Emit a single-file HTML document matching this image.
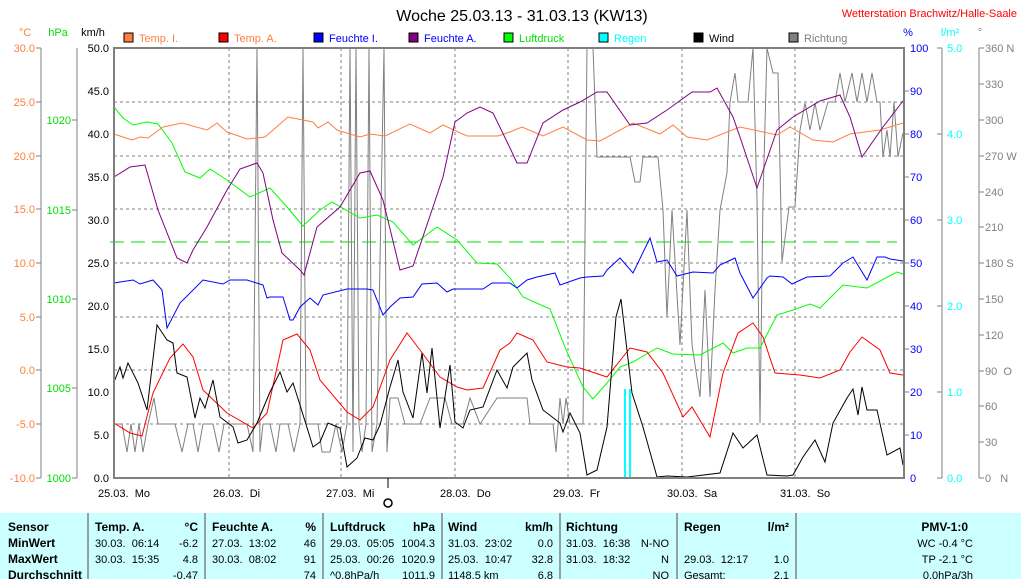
<!DOCTYPE html>
<html><head><meta charset="utf-8"><style>
body{margin:0;background:#fff;width:1021px;height:579px;overflow:hidden}
svg text{font-family:"Liberation Sans",sans-serif}
</style></head><body>
<svg width="1021" height="579" viewBox="0 0 1021 579" xmlns="http://www.w3.org/2000/svg">
<rect width="1021" height="579" fill="#fff"/>
<text x="522" y="21" font-size="16" text-anchor="middle" fill="#000">Woche 25.03.13 - 31.03.13 (KW13)</text>
<text x="1017" y="17" font-size="11" text-anchor="end" fill="#f00">Wetterstation Brachwitz/Halle-Saale</text>
<g font-size="11">
<text x="25" y="36" text-anchor="middle" fill="#ff7f3f">°C</text>
<text x="58" y="36" text-anchor="middle" fill="#00e000">hPa</text>
<text x="93" y="36" text-anchor="middle" fill="#000">km/h</text>
<text x="908" y="36" text-anchor="middle" fill="#00f">%</text>
<text x="950" y="36" text-anchor="middle" fill="#0ff">l/m²</text>
<text x="980" y="36" text-anchor="middle" fill="#808080">°</text>
</g>
<g font-size="11">
<rect x="124" y="33" width="9" height="9" fill="#ff7f3f" stroke="#000"/><text x="139" y="42" fill="#ff7f3f">Temp. I.</text>
<rect x="219" y="33" width="9" height="9" fill="#f00" stroke="#000"/><text x="234" y="42" fill="#ff7f3f">Temp. A.</text>
<rect x="314" y="33" width="9" height="9" fill="#00f" stroke="#000"/><text x="329" y="42" fill="#00f">Feuchte I.</text>
<rect x="409" y="33" width="9" height="9" fill="#800080" stroke="#000"/><text x="424" y="42" fill="#00f">Feuchte A.</text>
<rect x="504" y="33" width="9" height="9" fill="#00ff00" stroke="#000"/><text x="519" y="42" fill="#00e000">Luftdruck</text>
<rect x="599" y="33" width="9" height="9" fill="#0ff" stroke="#000"/><text x="614" y="42" fill="#0ff">Regen</text>
<rect x="694" y="33" width="9" height="9" fill="#000" stroke="#000"/><text x="709" y="42" fill="#000">Wind</text>
<rect x="789" y="33" width="9" height="9" fill="#808080" stroke="#000"/><text x="804" y="42" fill="#808080">Richtung</text>
</g>
<g stroke="#808080" stroke-dasharray="3,3" stroke-width="1">
<line x1="114" y1="102" x2="904" y2="102"/><line x1="114" y1="156" x2="904" y2="156"/>
<line x1="114" y1="209" x2="904" y2="209"/><line x1="114" y1="263" x2="904" y2="263"/>
<line x1="114" y1="317" x2="904" y2="317"/><line x1="114" y1="370" x2="904" y2="370"/>
<line x1="114" y1="424" x2="904" y2="424"/>
<line x1="229" y1="48" x2="229" y2="478"/><line x1="341" y1="48" x2="341" y2="478"/>
<line x1="455" y1="48" x2="455" y2="478"/><line x1="568" y1="48" x2="568" y2="478"/>
<line x1="682" y1="48" x2="682" y2="478"/><line x1="795" y1="48" x2="795" y2="478"/>
</g>
<line x1="110" y1="242" x2="897" y2="242" stroke="#00e000" stroke-dasharray="14,7"/>
<g stroke="#808080" fill="none">
<line x1="41" y1="48" x2="41" y2="478"/><line x1="77" y1="48" x2="77" y2="478"/>
<line x1="942" y1="48" x2="942" y2="478"/><line x1="979" y1="48" x2="979" y2="478"/>
</g>
<g font-size="11" fill="#ff7f3f" text-anchor="end">
<text x="35" y="52">30.0</text><text x="35" y="106">25.0</text><text x="35" y="160">20.0</text><text x="35" y="213">15.0</text><text x="35" y="267">10.0</text><text x="35" y="321">5.0</text><text x="35" y="374">0.0</text><text x="35" y="428">-5.0</text><text x="35" y="482">-10.0</text>
</g>
<g stroke="#808080"><line x1="36" y1="48" x2="41" y2="48"/><line x1="36" y1="102" x2="41" y2="102"/><line x1="36" y1="156" x2="41" y2="156"/><line x1="36" y1="209" x2="41" y2="209"/><line x1="36" y1="263" x2="41" y2="263"/><line x1="36" y1="317" x2="41" y2="317"/><line x1="36" y1="370" x2="41" y2="370"/><line x1="36" y1="424" x2="41" y2="424"/><line x1="36" y1="478" x2="41" y2="478"/>
<line x1="72" y1="120" x2="77" y2="120"/><line x1="72" y1="210" x2="77" y2="210"/><line x1="72" y1="299" x2="77" y2="299"/><line x1="72" y1="388" x2="77" y2="388"/><line x1="72" y1="478" x2="77" y2="478"/></g>
<g font-size="11" fill="#00e000" text-anchor="end">
<text x="71" y="124">1020</text><text x="71" y="214">1015</text><text x="71" y="303">1010</text><text x="71" y="392">1005</text><text x="71" y="482">1000</text>
</g>
<g font-size="11" fill="#000" text-anchor="end">
<text x="109" y="52">50.0</text><text x="109" y="95">45.0</text><text x="109" y="138">40.0</text><text x="109" y="181">35.0</text><text x="109" y="224">30.0</text><text x="109" y="267">25.0</text><text x="109" y="310">20.0</text><text x="109" y="353">15.0</text><text x="109" y="396">10.0</text><text x="109" y="439">5.0</text><text x="109" y="482">0.0</text>
</g>
<g font-size="11" fill="#00f">
<text x="910" y="52">100</text><text x="910" y="95">90</text><text x="910" y="138">80</text><text x="910" y="181">70</text><text x="910" y="224">60</text><text x="910" y="267">50</text><text x="910" y="310">40</text><text x="910" y="353">30</text><text x="910" y="396">20</text><text x="910" y="439">10</text><text x="910" y="482">0</text>
</g>
<g font-size="11" fill="#0ff">
<text x="947" y="52">5.0</text><text x="947" y="138">4.0</text><text x="947" y="224">3.0</text><text x="947" y="310">2.0</text><text x="947" y="396">1.0</text><text x="947" y="482">0.0</text>
</g>
<g stroke="#808080"><line x1="937" y1="48" x2="942" y2="48"/><line x1="937" y1="134" x2="942" y2="134"/><line x1="937" y1="220" x2="942" y2="220"/><line x1="937" y1="306" x2="942" y2="306"/><line x1="937" y1="392" x2="942" y2="392"/><line x1="937" y1="478" x2="942" y2="478"/>
<line x1="979" y1="48" x2="984" y2="48"/><line x1="979" y1="84" x2="984" y2="84"/><line x1="979" y1="120" x2="984" y2="120"/><line x1="979" y1="156" x2="984" y2="156"/><line x1="979" y1="192" x2="984" y2="192"/><line x1="979" y1="227" x2="984" y2="227"/><line x1="979" y1="263" x2="984" y2="263"/><line x1="979" y1="299" x2="984" y2="299"/><line x1="979" y1="335" x2="984" y2="335"/><line x1="979" y1="371" x2="984" y2="371"/><line x1="979" y1="406" x2="984" y2="406"/><line x1="979" y1="442" x2="984" y2="442"/><line x1="979" y1="478" x2="984" y2="478"/>
<line x1="904" y1="91" x2="909" y2="91"/><line x1="904" y1="134" x2="909" y2="134"/><line x1="904" y1="177" x2="909" y2="177"/><line x1="904" y1="220" x2="909" y2="220"/><line x1="904" y1="263" x2="909" y2="263"/><line x1="904" y1="306" x2="909" y2="306"/><line x1="904" y1="349" x2="909" y2="349"/><line x1="904" y1="392" x2="909" y2="392"/><line x1="904" y1="435" x2="909" y2="435"/></g>
<g font-size="11" fill="#808080">
<text x="985" y="52">360 N</text><text x="985" y="88">330</text><text x="985" y="124">300</text><text x="985" y="160">270 W</text><text x="985" y="196">240</text><text x="985" y="231">210</text><text x="985" y="267">180 S</text><text x="985" y="303">150</text><text x="985" y="339">120</text><text x="985" y="375">90&#160;&#160;O</text><text x="985" y="410">60</text><text x="985" y="446">30</text><text x="985" y="482">0&#160;&#160;&#160;N</text>
</g>
<polyline fill="none" stroke="#808080" stroke-width="1" points="114,424 122,424 127,452 131,424 135,452 139,424 143,452 148,424 154,398 158,424 175,424 182,452 188,424 193,424 198,452 203,424 213,424 219,452 224,424 247,424 253,452 257,48 260,452 263,424 270,424 276,452 280,424 288,424 294,452 300,424 303,48 306,424 318,424 322,452 330,452 336,424 342,452 347,424 350,48 353,452 356,48 359,424 362,452 366,424 369,48 372,452 377,424 384,48 387,452 390,398 398,398 405,424 420,424 430,398 445,398 452,424 463,424 470,398 480,424 497,398 527,398 530,424 553,424 556,452 560,398 563,424 566,398 570,424 577,424 580,424 583,424 587,48 593,48 597,157 630,157 635,182 640,182 643,157 658,157 663,210 667,317 672,210 680,345 687,210 692,345 700,397 705,290 710,397 715,290 720,210 727,173 730,102 735,73 738,102 748,102 753,48 757,200 760,423 763,200 767,48 773,73 778,73 782,262 789,207 795,207 800,130 805,103 810,130 815,103 820,130 828,102 835,102 840,73 845,102 852,73 857,102 862,73 867,102 872,73 877,102 880,102 883,157 887,130 890,157 894,102 898,157 903,133"/>
<polyline fill="none" stroke="#00ff00" points="114,107 123,118 133,125 147,122 158,124 172,143 185,172 200,178 210,169 227,180 250,197 270,188 287,207 303,226 320,210 332,202 360,218 377,215 393,222 413,245 437,227 457,240 477,263 497,264 510,278 523,297 550,309 567,352 583,387 593,399 607,383 620,367 633,362 657,348 673,354 700,355 723,343 733,353 747,348 760,348 777,315 793,310 810,304 820,308 843,285 867,288 897,272 903,274"/>
<polyline fill="none" stroke="#ff7f3f" points="114,134 132,140 140,137 148,138 163,127 182,123 207,130 217,123 227,132 247,139 265,137 288,117 313,122 318,128 328,122 337,130 360,137 370,134 385,136 410,124 430,133 443,125 467,136 498,136 510,132 522,127 543,136 563,127 587,140 600,141 633,123 660,134 673,125 687,137 707,140 740,127 777,135 790,127 813,140 833,142 850,134 880,130 903,123"/>
<polyline fill="none" stroke="#800080" points="114,177 130,167 145,165 158,210 177,258 187,263 193,250 207,227 227,190 240,169 257,163 263,173 273,220 282,253 300,270 304,275 317,227 340,207 360,173 370,171 383,200 400,270 413,266 433,207 443,177 455,122 467,113 480,107 493,113 510,148 517,163 527,163 543,123 563,110 580,102 597,92 607,92 630,125 647,123 667,110 692,92 710,92 717,88 733,117 740,137 757,188 777,130 793,117 820,101 840,95 850,117 862,157 883,127 903,101"/>
<polyline fill="none" stroke="#0000ff" points="114,283 133,280 140,284 153,280 162,290 167,328 180,303 203,280 223,284 230,280 247,280 263,285 267,298 270,297 283,297 290,320 293,320 300,307 310,298 318,305 323,295 347,289 367,289 373,290 383,315 390,307 400,298 413,297 422,284 437,283 447,292 453,289 483,289 492,283 510,283 517,288 527,280 537,277 555,273 560,285 580,278 587,277 603,276 607,270 620,258 633,273 650,238 657,262 667,260 677,276 693,272 713,273 720,265 735,258 740,273 753,298 767,278 770,276 783,277 792,284 807,277 830,276 843,263 853,257 867,280 877,257 885,257 890,259 903,261"/>
<polyline fill="none" stroke="#ff0000" points="114,423 130,433 142,436 153,393 170,358 183,344 193,357 203,390 227,413 253,428 267,413 283,340 297,334 310,350 320,380 347,412 360,420 373,407 390,360 407,333 420,350 440,377 457,387 467,390 483,388 500,350 510,343 517,333 533,340 547,362 567,367 580,368 607,377 630,348 647,352 663,373 683,417 692,407 710,437 723,373 738,333 753,323 763,337 775,373 800,375 820,378 840,370 850,352 862,337 880,350 890,373 903,375"/>
<polyline fill="none" stroke="#000" points="114,382 120,367 123,378 128,363 138,383 147,410 157,325 167,340 173,343 177,373 187,377 195,418 200,398 205,408 213,380 220,417 233,427 238,443 247,440 257,423 270,392 280,372 287,392 293,383 300,405 313,447 320,442 328,423 340,428 347,467 357,458 365,438 373,440 380,425 390,387 398,360 403,392 413,418 422,353 427,393 432,348 440,428 450,365 455,422 463,428 470,410 483,407 497,370 507,388 513,367 527,353 532,380 543,410 560,423 563,432 570,413 580,433 587,475 597,470 607,427 616,317 621,299 632,393 643,427 657,477 667,476 687,477 720,473 733,433 743,448 757,435 767,475 787,476 793,475 803,457 815,440 825,462 833,423 847,398 853,389 858,415 862,387 867,410 877,410 887,455 900,448 903,465"/>
<rect x="624" y="389" width="2" height="89" fill="#0ff"/>
<rect x="629" y="389" width="2" height="89" fill="#0ff"/>
<rect x="114" y="48" width="790" height="430" fill="none" stroke="#808080" stroke-width="2"/>
<line x1="388" y1="478" x2="388" y2="488" stroke="#000"/>
<circle cx="388" cy="503" r="4" fill="none" stroke="#000" stroke-width="1.5"/>
<g font-size="11" fill="#000">
<text x="98" y="497">25.03.&#160;&#160;Mo</text><text x="213" y="497">26.03.&#160;&#160;Di</text><text x="326" y="497">27.03.&#160;&#160;Mi</text><text x="440" y="497">28.03.&#160;&#160;Do</text><text x="553" y="497">29.03.&#160;&#160;Fr</text><text x="667" y="497">30.03.&#160;&#160;Sa</text><text x="780" y="497">31.03.&#160;&#160;So</text>
</g>
<rect x="0" y="513" width="1021" height="66" fill="#ccffff"/>
<g stroke="#808080" stroke-width="1.5"><line x1="88" y1="513" x2="88" y2="579"/><line x1="205" y1="513" x2="205" y2="579"/><line x1="323" y1="513" x2="323" y2="579"/><line x1="442" y1="513" x2="442" y2="579"/><line x1="560" y1="513" x2="560" y2="579"/><line x1="677" y1="513" x2="677" y2="579"/><line x1="796" y1="513" x2="796" y2="579"/></g>
<g font-size="12" fill="#000" font-weight="bold">
<text x="8" y="531">Sensor</text><text x="8" y="547">MinWert</text><text x="8" y="563">MaxWert</text><text x="8" y="579">Durchschnitt</text>
<text x="95" y="531">Temp. A.</text><text x="198" y="531" text-anchor="end">°C</text>
<text x="212" y="531">Feuchte A.</text><text x="316" y="531" text-anchor="end">%</text>
<text x="330" y="531">Luftdruck</text><text x="435" y="531" text-anchor="end">hPa</text>
<text x="448" y="531">Wind</text><text x="553" y="531" text-anchor="end">km/h</text>
<text x="566" y="531">Richtung</text>
<text x="684" y="531">Regen</text><text x="789" y="531" text-anchor="end">l/m²</text>
<text x="968" y="531" text-anchor="end">PMV-1:0</text></g>
<g font-size="11" fill="#000">
<text x="95" y="547">30.03.&#160;&#160;06:14</text><text x="198" y="547" text-anchor="end">-6.2</text>
<text x="95" y="563">30.03.&#160;&#160;15:35</text><text x="198" y="563" text-anchor="end">4.8</text>
<text x="198" y="579" text-anchor="end">-0.47</text>
<text x="212" y="547">27.03.&#160;&#160;13:02</text><text x="316" y="547" text-anchor="end">46</text>
<text x="212" y="563">30.03.&#160;&#160;08:02</text><text x="316" y="563" text-anchor="end">91</text>
<text x="316" y="579" text-anchor="end">74</text>
<text x="330" y="547">29.03.&#160;&#160;05:05</text><text x="435" y="547" text-anchor="end">1004.3</text>
<text x="330" y="563">25.03.&#160;&#160;00:26</text><text x="435" y="563" text-anchor="end">1020.9</text>
<text x="330" y="579">^0.8hPa/h</text><text x="435" y="579" text-anchor="end">1011.9</text>
<text x="448" y="547">31.03.&#160;&#160;23:02</text><text x="553" y="547" text-anchor="end">0.0</text>
<text x="448" y="563">25.03.&#160;&#160;10:47</text><text x="553" y="563" text-anchor="end">32.8</text>
<text x="448" y="579">1148.5 km</text><text x="553" y="579" text-anchor="end">6.8</text>
<text x="566" y="547">31.03.&#160;&#160;16:38</text><text x="669" y="547" text-anchor="end">N-NO</text>
<text x="566" y="563">31.03.&#160;&#160;18:32</text><text x="669" y="563" text-anchor="end">N</text>
<text x="669" y="579" text-anchor="end">NO</text>
<text x="684" y="563">29.03.&#160;&#160;12:17</text><text x="789" y="563" text-anchor="end">1.0</text>
<text x="684" y="579">Gesamt:</text><text x="789" y="579" text-anchor="end">2.1</text>
<text x="973" y="547" text-anchor="end">WC -0.4 °C</text>
<text x="973" y="563" text-anchor="end">TP -2.1 °C</text>
<text x="973" y="579" text-anchor="end">0.0hPa/3h</text>
</g>
</svg>
</body></html>
